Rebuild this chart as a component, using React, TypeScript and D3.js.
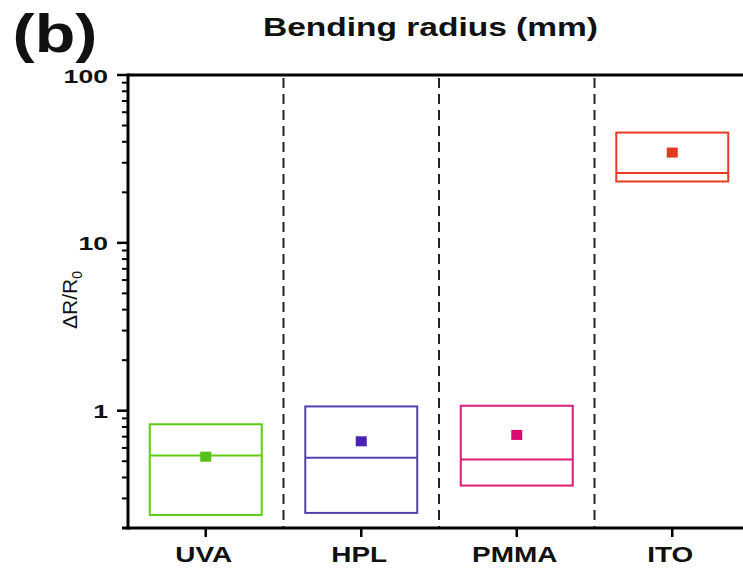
import React from "react";
import * as d3 from "d3";

const categories = ["UVA", "HPL", "PMMA", "ITO"];
const boxTop = [0.83, 1.06, 1.07, 45.4];
const boxBottom = [0.239, 0.246, 0.358, 23.2];
const medianVals = [0.54, 0.525, 0.511, 26.1];
const meanVals = [0.532, 0.657, 0.717, 34.5];
const colors = ["#5fcc14", "#5242b0", "#dc1a78", "#ea3a26"];
const meanColors = ["#55c018", "#4a22b4", "#dc0a6e", "#e23a1e"];
const majorTicks = [1, 10, 100];
const minorTicks = [0.2, 0.3, 0.4, 0.5, 0.6, 0.7, 0.8, 0.9, 2, 3, 4, 5, 6, 7, 8, 9, 20, 30, 40, 50, 60, 70, 80, 90];
const yLabelText = "ΔR/R";
const titleText = "Bending radius (mm)";
const panelText = "(b)";

const W = 743;
const H = 569;
const FONT = "'Liberation Sans', Arial, Helvetica, sans-serif";

function SText({ x, y, sx, anchor, size, weight, children }: any) {
  return (
    <text
      transform={`translate(${x},${y}) scale(${sx},1)`}
      textAnchor={anchor}
      fontSize={size}
      fontWeight={weight}
      fontFamily={FONT}
      fill="#111"
    >
      {children}
    </text>
  );
}

export default function App() {
  const left = 128;
  const top = 75;
  const bottom = 528;
  const x = d3.scaleBand<string>().domain(categories).range([left, left + 4 * 155.5]).paddingInner(0).paddingOuter(0);
  const y = d3.scaleLog().domain([0.2, 100]).range([bottom, top]);
  const bw = x.bandwidth();
  const boxW = bw * 0.72;
  const sq = 11;

  return (
    <>
      <style>{`body{margin:0;}`}</style>
      <svg width={W} height={H} style={{ display: "block", background: "#fff" }}>
        {/* dashed separators */}
        {categories.slice(1).map((c) => (
          <line
            key={"sep" + c}
            x1={x(c)!}
            x2={x(c)!}
            y1={top + 3}
            y2={bottom}
            stroke="#222"
            strokeWidth={2}
            strokeDasharray="10,6"
          />
        ))}

        {/* boxes */}
        {categories.map((c, i) => {
          const cx = x(c)! + bw / 2;
          const yt = y(boxTop[i]);
          const yb = y(boxBottom[i]);
          return (
            <g key={"box" + c}>
              <rect x={cx - boxW / 2} y={yt} width={boxW} height={yb - yt} fill="none" stroke={colors[i]} strokeWidth={2} />
              <line x1={cx - boxW / 2} x2={cx + boxW / 2} y1={y(medianVals[i])} y2={y(medianVals[i])} stroke={colors[i]} strokeWidth={2} />
              <rect x={cx - sq / 2} y={y(meanVals[i]) - sq / 2 + 0.5} width={sq} height={sq - 1} fill={meanColors[i]} />
            </g>
          );
        })}

        {/* axes */}
        <line x1={left} x2={W} y1={top} y2={top} stroke="#000" strokeWidth={3} />
        <line x1={left - 6} x2={W} y1={bottom} y2={bottom} stroke="#000" strokeWidth={3} />
        <line x1={left} x2={left} y1={top - 1.5} y2={bottom + 1.5} stroke="#000" strokeWidth={3} />

        {/* y ticks */}
        {majorTicks.map((t) => (
          <g key={"maj" + t}>
            <line x1={left - 11} x2={left} y1={y(t)} y2={y(t)} stroke="#000" strokeWidth={2.5} />
            <SText x={left - 20} y={y(t) + 7.5} sx={1.4} anchor="end" size={19} weight="bold">
              {d3.format("d")(t)}
            </SText>
          </g>
        ))}
        {minorTicks.map((t) => (
          <line key={"min" + t} x1={left - 6} x2={left} y1={y(t)} y2={y(t)} stroke="#000" strokeWidth={2} />
        ))}

        {/* x ticks and labels */}
        {categories.map((c) => {
          const cx = x(c)! + bw / 2;
          return (
            <g key={"xt" + c}>
              <line x1={cx} x2={cx} y1={bottom} y2={bottom + 9} stroke="#000" strokeWidth={2.5} />
              <SText x={cx - 2} y={562} sx={1.27} anchor="middle" size={22} weight="bold">
                {c}
              </SText>
            </g>
          );
        })}

        {/* y label */}
        <text
          transform={`translate(77,300) rotate(-90)`}
          textAnchor="middle"
          fontSize={21}
          fontFamily={FONT}
          fill="#111"
        >
          {yLabelText}
          <tspan fontSize={14} dy={5}>0</tspan>
        </text>

        {/* title */}
        <SText x={430.5} y={36} sx={1.34} anchor="middle" size={25} weight="bold">
          {titleText}
        </SText>

        {/* panel label */}
        <SText x={55} y={52} sx={1.23} anchor="middle" size={54} weight="bold">
          {panelText}
        </SText>
      </svg>
    </>
  );
}
